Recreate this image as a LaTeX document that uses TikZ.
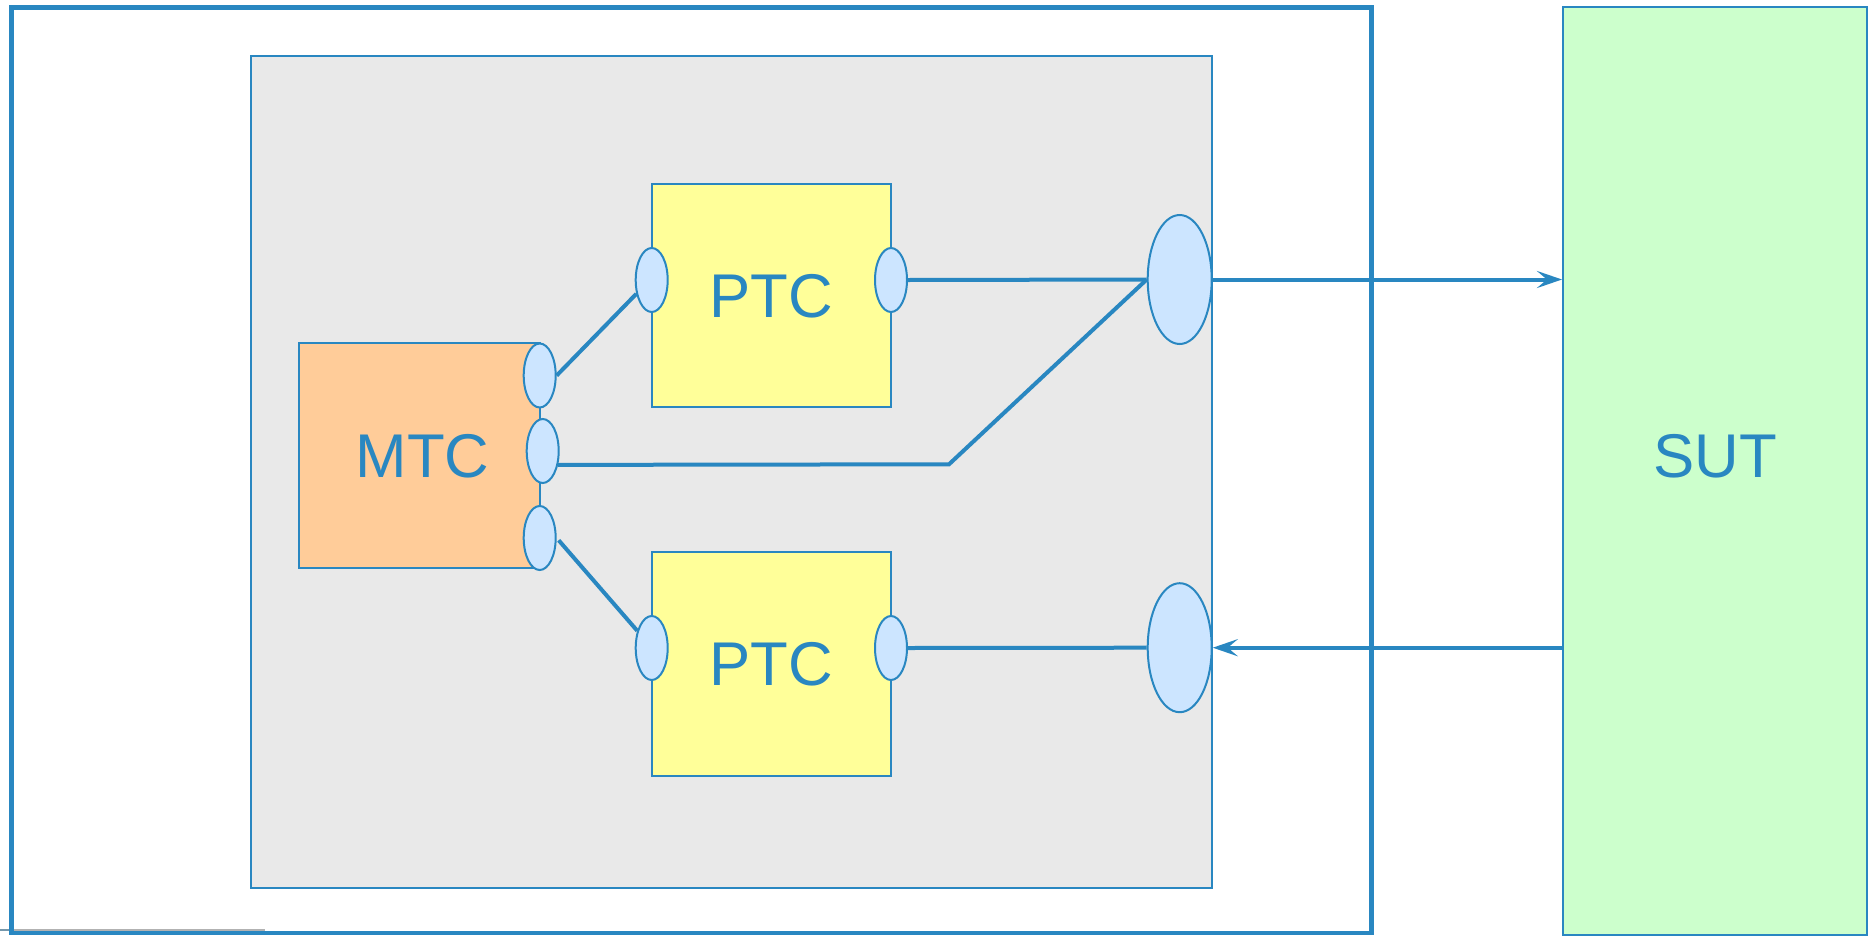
\documentclass[tikz,border=0pt]{standalone}
\usepackage{fontspec}
\setmainfont{Liberation Sans}
\usetikzlibrary{arrows.meta,shapes.geometric}
\definecolor{ublue}{RGB}{41,135,193}
\definecolor{ugray}{HTML}{E9E9E9}
\definecolor{uorange}{HTML}{FFCC99}
\definecolor{uyellow}{HTML}{FFFF99}
\definecolor{uport}{HTML}{CCE5FF}
\definecolor{ugreen}{HTML}{CCFFCC}
\tikzset{
  box/.style={draw=ublue, line width=2bp, inner sep=0pt},
  port/.style={ellipse, draw=ublue, fill=uport, line width=2bp, inner sep=0pt,
    minimum width=32bp, minimum height=64bp},
  bigport/.style={ellipse, draw=ublue, fill=uport, line width=2bp, inner sep=0pt,
    minimum width=64bp, minimum height=129bp},
  lbl/.style={text=ublue, font=\fontsize{62}{70}\selectfont, inner sep=0pt},
  conn/.style={draw=ublue, line width=4bp},
  arr/.style={conn, -{Stealth[length=25bp, width=17bp, inset=10bp]}},
}
\begin{document}
\begin{tikzpicture}[x=1bp, y=-1bp]
\useasboundingbox (0,0) rectangle (1868,936);
\fill[white] (0,0) rectangle (1868,936);
% outer frame
\draw[ublue, line width=4.5bp] (11.5,7.5) rectangle (1371.5,933);
% artefact line at bottom left
\draw[black!30, line width=2bp] (14,930) -- (265,930);
\draw[ublue!60!black!60, line width=2bp] (0,930) -- (9,930);
% inner gray area
\draw[box, fill=ugray] (251,56) rectangle (1211.5,887.5);
% SUT
\node[box, fill=ugreen, minimum width=304bp, minimum height=927.5bp] (sut) at (1715,471.25) {};
\node[lbl] (sutl) at (1715,456) {SUT};
% MTC
\node[box, fill=uorange, minimum width=240.5bp, minimum height=224.4bp] (mtc) at (419.25,455.5) {};
\node[lbl] (mtcl) at (422.5,456) {MTC};
% PTCs
\node[box, fill=uyellow, minimum width=239.4bp, minimum height=223.9bp] (ptc1) at (771.3,295.45) {};
\node[lbl] (ptc1l) at (771.3,296) {PTC};
\node[box, fill=uyellow, minimum width=239.4bp, minimum height=223.9bp] (ptc2) at (771.3,663.55) {};
\node[lbl] (ptc2l) at (771.3,664) {PTC};
% ports
\node[port] (m1) at (539.7,375.5) {};
\node[port] (m2) at (542.7,451) {};
\node[port] (m3) at (539.7,538) {};
\node[port] (p1l) at (651.7,280) {};
\node[port] (p1r) at (891,280) {};
\node[port] (p2l) at (651.7,648) {};
\node[port] (p2r) at (891,648) {};
\node[bigport] (b1) at (1179.7,279.5) {};
\node[bigport] (b2) at (1179.7,647.7) {};
\coordinate (knee) at (949,464.3);
% connectors
\draw[conn] (m1.east) -- (p1l.222);
\draw[conn] (m2.-42) -- (knee) -- (b1.west);
\draw[conn, shorten <=3bp] (m3.east) -- (p2l.130);
\draw[conn] (p1r.east) -- (b1.west);
\draw[conn] (p2r.east) -- (b2.west);
\draw[arr] (b1.east) -- (b1.east -| sut.west);
\draw[arr] (b2.east -| sut.west) -- (b2.east);
\end{tikzpicture}
\end{document}
